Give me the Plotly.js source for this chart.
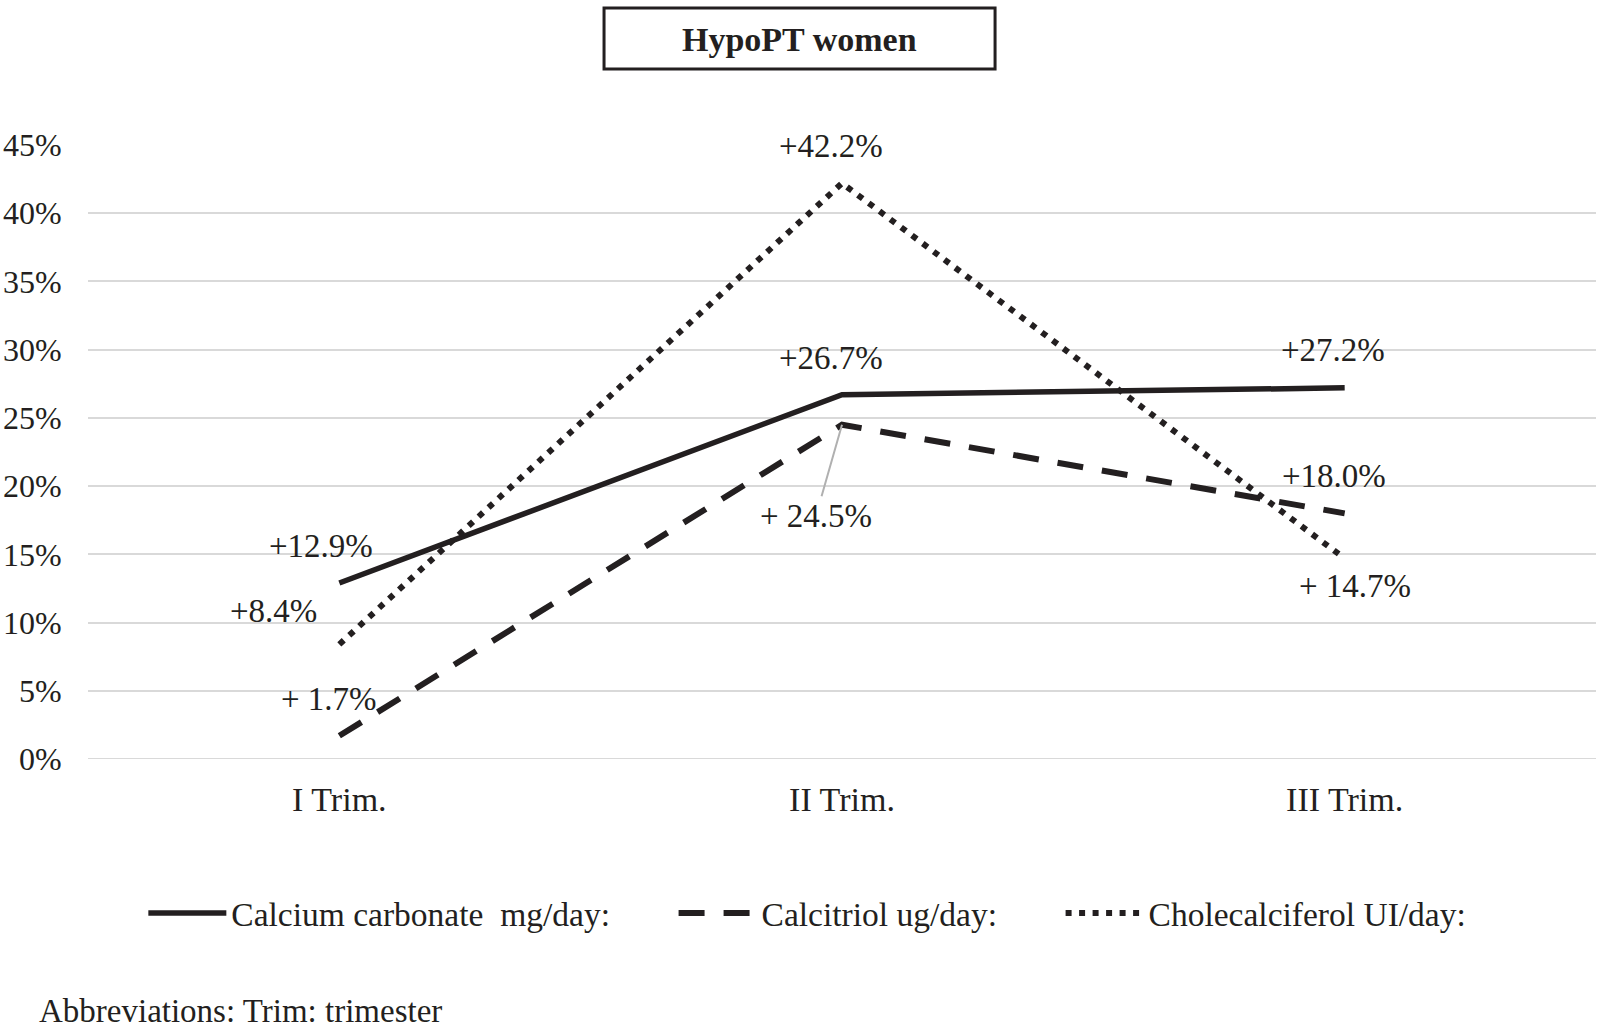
<!DOCTYPE html>
<html>
<head>
<meta charset="utf-8">
<script src="https://cdn.plot.ly/plotly-3.0.1.min.js"></script>
<style>html,body{margin:0;padding:0;background:#fff;}#chart{width:1600px;height:1032px;}</style>
</head>
<body>
<div id="chart"></div>
<script>
const categories = ["I Trim.", "II Trim.", "III Trim."];
const calciumCarbonate = [12.9, 26.7, 27.2];
const calcitriol = [1.7, 24.5, 18.0];
const cholecalciferol = [8.4, 42.2, 14.7];
const calciumLabels = ["+12.9%", "+26.7%", "+27.2%"];
const calcitriolLabels = ["+ 1.7%", "+ 24.5%", "+18.0%"];
const cholecalciferolLabels = ["+8.4%", "+42.2%", "+ 14.7%"];
const seriesNames = ["Calcium carbonate  mg/day:", "Calcitriol ug/day:", "Cholecalciferol UI/day:"];
const yTickVals = [0, 5, 10, 15, 20, 25, 30, 35, 40, 45];
const yTickText = ["0%", "5%", "10%", "15%", "20%", "25%", "30%", "35%", "40%", "45%"];

const ink = "#231f20";
const serif = "Liberation Serif, Times New Roman, serif";
const legendPad = "\u00a0".repeat(7);

const traces = [
  {x: categories, y: calciumCarbonate, name: seriesNames[0] + legendPad, type: "scatter", mode: "lines",
   line: {color: ink, width: 5.5, dash: "solid"}},
  {x: categories, y: calcitriol, name: seriesNames[1] + legendPad, type: "scatter", mode: "lines",
   line: {color: ink, width: 6, dash: "26px,19px"}},
  {x: categories, y: cholecalciferol, name: seriesNames[2], type: "scatter", mode: "lines",
   line: {color: ink, width: 6, dash: "6px,7.5px"}}
];

// label offsets (pixels) relative to data points
const calciumOff = [[-18, -37], [-11, -37], [-12, -38]];
const calcitriolOff = [[-10, -37], [-26, 91], [-11, -37]];
const cholOff = [[-66, -33], [-11, -37], [10, 28]];

const annotations = [];
function addLabels(vals, labels, offs, arrowIdx) {
  vals.forEach((v, i) => {
    annotations.push({
      x: categories[i], y: v, xref: "x", yref: "y",
      text: labels[i], showarrow: true,
      ax: offs[i][0], ay: offs[i][1],
      arrowhead: 0, arrowwidth: 2,
      arrowcolor: (arrowIdx === i) ? "#b0b0b0" : "rgba(0,0,0,0)",
      font: {family: serif, size: 33, color: ink}
    });
  });
}
addLabels(calciumCarbonate, calciumLabels, calciumOff, -1);
addLabels(calcitriol, calcitriolLabels, calcitriolOff, 1);
addLabels(cholecalciferol, cholecalciferolLabels, cholOff, -1);

annotations.push({
  xref: "paper", yref: "paper", x: -0.034, y: -0.4104, xanchor: "left", yanchor: "middle",
  text: "Abbreviations: Trim: trimester", showarrow: false,
  font: {family: serif, size: 33, color: ink}
});
annotations.push({
  xref: "paper", yref: "paper", x: 0.4718, y: 1.1726, xanchor: "center", yanchor: "middle",
  text: "<b>HypoPT women</b>", showarrow: false,
  font: {family: serif, size: 34, color: ink}
});

const layout = {
  width: 1600, height: 1032,
  margin: {l: 88, r: 4, t: 145, b: 273},
  paper_bgcolor: "#fff", plot_bgcolor: "#fff",
  showlegend: true,
  legend: {orientation: "h", x: 0.0367, y: -0.251, xanchor: "left", yanchor: "middle",
           font: {family: serif, size: 33.5, color: ink}, itemwidth: 78, tracegroupgap: 0},
  xaxis: {type: "category", range: [-0.5, 2.5], showgrid: false, zeroline: false,
          showline: false, ticks: "outside", ticklen: 10, tickcolor: "rgba(0,0,0,0)",
          tickfont: {family: serif, size: 34, color: ink}, fixedrange: true},
  yaxis: {range: [0, 45], tickvals: yTickVals, ticktext: yTickText, showgrid: true,
          gridcolor: "#d9d9d9", gridwidth: 2, zeroline: false, showline: false,
          ticks: "outside", ticklen: 19, tickcolor: "rgba(0,0,0,0)",
          tickfont: {family: serif, size: 32, color: ink}, fixedrange: true},
  shapes: [
    {type: "line", xref: "paper", yref: "y", x0: 0, x1: 1, y0: 0, y1: 0,
     line: {color: "#d9d9d9", width: 2}, layer: "below"},
    {type: "rect", xref: "paper", yref: "paper", x0: 0.3422, x1: 0.6015, y0: 1.1238, y1: 1.2231,
     line: {color: ink, width: 3}, fillcolor: "rgba(0,0,0,0)"}
  ],
  annotations: annotations
};

Plotly.newPlot("chart", traces, layout, {displayModeBar: false, staticPlot: true});
</script>
</body>
</html>
